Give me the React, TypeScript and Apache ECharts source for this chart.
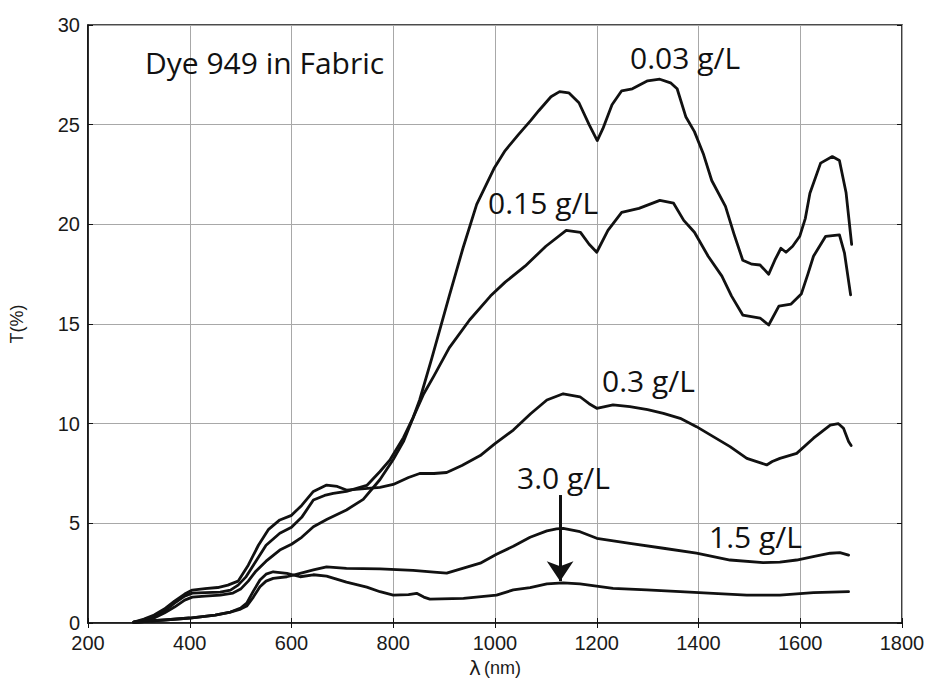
import React, { useEffect, useRef } from "react";
import * as echarts from "echarts";

// wavelength (nm) and transmittance (%) for each concentration
const wl003 = [290,310,330,350,370,390,405,430,460,485,500,515,530,550,577,600,620,643,670,708,741,774,800,820,839,852,876,910,937,964,998,1020,1046,1070,1086,1110,1127,1145,1165,1185,1201,1212,1230,1249,1270,1300,1324,1345,1358,1375,1392,1410,1426,1453,1470,1487,1505,1521,1538,1550,1562,1572,1585,1599,1610,1619,1640,1663,1677,1690,1701];
const t003 = [0.05,0.1,0.25,0.5,0.8,1.15,1.3,1.35,1.4,1.5,1.7,2.1,2.6,3.1,3.66,3.95,4.3,4.83,5.2,5.67,6.2,7.2,8.2,9.1,10.3,11.2,13.3,16.4,18.8,21.0,22.8,23.7,24.5,25.2,25.7,26.4,26.66,26.6,26.1,25.0,24.2,24.8,26.0,26.7,26.8,27.2,27.28,27.1,26.8,25.4,24.65,23.5,22.2,20.9,19.5,18.2,18.0,17.96,17.5,18.2,18.8,18.6,18.9,19.4,20.3,21.56,23.07,23.4,23.2,21.6,19.0];

const wl015 = [290,310,330,350,370,390,405,430,460,480,495,510,530,550,577,600,620,643,665,682,708,748,774,794,820,839,860,880,910,950,991,1020,1059,1100,1140,1168,1185,1200,1222,1249,1283,1324,1351,1371,1392,1419,1446,1465,1487,1521,1538,1558,1582,1602,1615,1626,1650,1677,1687,1699];
const t015 = [0.05,0.15,0.3,0.6,1.0,1.35,1.5,1.52,1.55,1.65,1.9,2.3,3.1,3.9,4.5,4.8,5.3,6.17,6.4,6.5,6.6,6.9,7.6,8.2,9.3,10.3,11.5,12.4,13.8,15.2,16.4,17.1,17.9,18.9,19.7,19.6,19.0,18.6,19.7,20.6,20.8,21.2,21.06,20.2,19.6,18.4,17.4,16.4,15.45,15.3,14.95,15.9,16.0,16.5,17.5,18.4,19.4,19.47,18.55,16.46];

const wl03 = [290,310,330,350,370,390,405,430,455,475,495,515,535,555,577,600,620,643,669,690,708,750,774,800,830,852,880,905,935,971,1000,1036,1070,1102,1134,1167,1185,1200,1232,1265,1300,1331,1364,1396,1429,1462,1495,1534,1545,1560,1593,1626,1659,1675,1685,1695,1700];
const t03 = [0.05,0.2,0.4,0.7,1.1,1.45,1.65,1.72,1.78,1.9,2.1,2.9,3.9,4.7,5.17,5.4,5.9,6.6,6.92,6.85,6.67,6.75,6.8,6.95,7.3,7.5,7.5,7.55,7.9,8.4,9.0,9.68,10.5,11.19,11.5,11.35,11.0,10.77,10.94,10.85,10.7,10.52,10.27,9.85,9.35,8.85,8.26,7.93,8.1,8.26,8.51,9.27,9.93,10.0,9.77,9.1,8.9];

const wl15 = [290,320,350,400,450,480,500,512,525,538,550,564,591,617,643,669,708,774,839,880,905,938,971,1003,1036,1069,1102,1121,1134,1167,1200,1265,1331,1396,1462,1527,1560,1593,1630,1659,1678,1695];
const t15 = [0.02,0.1,0.15,0.25,0.4,0.55,0.7,0.85,1.3,1.82,2.1,2.24,2.32,2.49,2.66,2.82,2.74,2.72,2.64,2.55,2.5,2.75,3.0,3.45,3.85,4.3,4.62,4.72,4.75,4.58,4.25,4.0,3.75,3.5,3.16,3.03,3.05,3.16,3.35,3.5,3.53,3.41];

const wl30 = [290,320,350,400,450,480,500,512,525,538,550,564,591,617,643,669,708,748,774,800,830,846,860,872,938,1003,1036,1069,1102,1134,1167,1232,1298,1364,1429,1495,1560,1626,1695];
const t30 = [0.02,0.1,0.15,0.25,0.4,0.55,0.75,1.0,1.6,2.16,2.45,2.57,2.49,2.32,2.42,2.35,2.05,1.8,1.57,1.4,1.42,1.49,1.3,1.2,1.24,1.4,1.66,1.78,1.96,2.01,1.96,1.74,1.66,1.57,1.49,1.4,1.4,1.52,1.57];

const xTicks = { min: 200, max: 1800, interval: 200 };
const yTicks = { min: 0, max: 30, interval: 5 };

const seriesNames = ["0.03 g/L", "0.15 g/L", "0.3 g/L", "1.5 g/L", "3.0 g/L"];
const seriesX = [wl003, wl015, wl03, wl15, wl30];
const seriesY = [t003, t015, t03, t15, t30];

// arrow pointing at the 3.0 g/L curve
const arrowFrom = [1128, 6.42];
const arrowTo = [1128, 2.1];

export default function App() {
  const ref = useRef<HTMLDivElement>(null);
  useEffect(() => {
    if (!ref.current) return;
    const chart = echarts.init(ref.current, null, { renderer: "svg" });
    const axisFont = { fontFamily: "Liberation Sans, Arial, sans-serif", fontSize: 20, color: "#1a1a1a" };
    const labelFont = "Open Sans, sans-serif";
    const series: any[] = seriesNames.map((name, i) => ({
      name,
      type: "line",
      showSymbol: false,
      symbol: "none",
      smooth: false,
      data: seriesX[i].map((x, j) => [x, seriesY[i][j]]),
      lineStyle: { color: "#111", width: 2.8, join: "round", cap: "round" },
      z: 3,
    }));
    series[4].markLine = {
      silent: true,
      symbol: ["none", "arrow"],
      symbolSize: 20,
      label: { show: false },
      lineStyle: { color: "#111", width: 3, type: "solid" },
      data: [[{ coord: arrowFrom }, { coord: arrowTo }]],
    };
    const textEl = (text: string, x: number, y: number) => ({
      type: "text",
      left: x,
      top: y,
      style: { text, font: `30px ${labelFont}`, fill: "#111" },
      z: 10,
    });
    chart.setOption({
      animation: false,
      backgroundColor: "#ffffff",
      grid: { left: 88, top: 25, right: 29, bottom: 62, show: true, borderColor: "#111", borderWidth: 1.6, backgroundColor: "transparent" },
      xAxis: [
        {
          type: "value",
          ...xTicks,
          name: "{l|λ} {n|(nm)}",
          nameLocation: "middle",
          nameGap: 31,
          nameTextStyle: {
            rich: {
              l: { fontFamily: "DejaVu Sans, sans-serif", fontSize: 20, color: "#1a1a1a" },
              n: { fontFamily: "Liberation Sans, Arial, sans-serif", fontSize: 18, color: "#1a1a1a" },
            },
          },
          axisLine: { show: true, lineStyle: { color: "#111", width: 1.6 } },
          axisTick: { show: true, inside: true, length: 5, lineStyle: { color: "#111" } },
          axisLabel: { ...axisFont, margin: 10, formatter: (v: number) => String(v) },
          splitLine: { show: true, lineStyle: { color: "#a8a8a8", width: 1 } },
        },
        {
          type: "value",
          ...xTicks,
          position: "top",
          axisLine: { show: false },
          axisTick: { show: true, inside: true, length: 5, lineStyle: { color: "#111" } },
          axisLabel: { show: false },
          splitLine: { show: false },
        },
      ],
      yAxis: [
        {
          type: "value",
          ...yTicks,
          name: "T(%)",
          nameLocation: "middle",
          nameGap: 62,
          nameRotate: 90,
          nameTextStyle: { fontFamily: "Liberation Sans, Arial, sans-serif", fontSize: 18, color: "#1a1a1a" },
          axisLine: { show: true, lineStyle: { color: "#111", width: 1.6 } },
          axisTick: { show: true, inside: true, length: 5, lineStyle: { color: "#111" } },
          axisLabel: { ...axisFont, margin: 8, padding: [0, 0, 7, 0], formatter: (v: number) => String(v) },
          splitLine: { show: true, lineStyle: { color: "#a8a8a8", width: 1 } },
        },
        {
          type: "value",
          ...yTicks,
          position: "right",
          axisLine: { show: false },
          axisTick: { show: true, inside: true, length: 5, lineStyle: { color: "#111" } },
          axisLabel: { show: false },
          splitLine: { show: false },
        },
      ],
      series,
      graphic: [
        textEl("Dye 949 in Fabric", 145, 47),
        textEl("0.03 g/L", 630, 42),
        textEl("0.15 g/L", 488, 187),
        textEl("0.3 g/L", 602, 365),
        textEl("3.0 g/L", 517, 462),
        textEl("1.5 g/L", 709, 521),
      ],
    });
    return () => chart.dispose();
  }, []);
  return <div ref={ref} style={{ position: "fixed", left: 0, top: 0, width: 931, height: 685 }} />;
}
